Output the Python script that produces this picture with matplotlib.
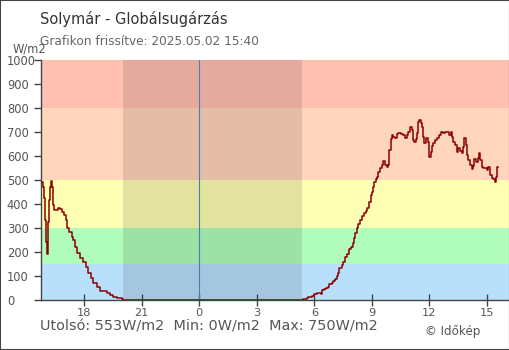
import matplotlib
matplotlib.use("Agg")
import matplotlib.pyplot as plt
from matplotlib.patches import Rectangle

# ── data ─────────────────────────────────────────────────────────────
# evening of 2025-05-01
EVE_TIMES = ["15:40", "15:50", "15:53", "15:56", "15:59", "16:02", "16:06", "16:09",
             "16:12", "16:15", "16:18", "16:21", "16:26", "16:34", "16:39", "16:44",
             "16:50", "16:56", "17:03", "17:07", "17:13", "17:21", "17:26", "17:31",
             "17:38", "17:47", "17:57", "18:05", "18:13", "18:20", "18:28", "18:39",
             "18:49", "19:10", "19:20", "19:31", "19:41", "19:57", "20:00"]
EVE_VALUES = [493, 472, 425, 333, 242, 191, 326, 417,
              472, 497, 472, 396, 375, 375, 385, 378,
              368, 354, 333, 299, 285, 264, 250, 222,
              194, 174, 160, 139, 111, 90, 69, 56,
              39, 31, 21, 11, 7, 3, 0]

# 2025-05-02
DAY_TIMES = ["05:24", "05:36", "05:41", "05:52", "05:59", "06:07", "06:21", "06:24",
             "06:30", "06:37", "06:42", "06:47", "06:54", "06:59", "07:05", "07:10",
             "07:13", "07:17", "07:26", "07:31", "07:37", "07:41", "07:49", "07:55",
             "08:00", "08:04", "08:08", "08:13", "08:18", "08:23", "08:28", "08:36",
             "08:42", "08:46", "08:52", "08:56", "09:00", "09:03", "09:08", "09:12",
             "09:17", "09:20", "09:26", "09:31", "09:36", "09:41", "09:47", "09:52",
             "09:55", "09:59", "10:02", "10:07", "10:13", "10:18", "10:23", "10:30",
             "10:39", "10:44", "10:49", "10:54", "11:00", "11:05", "11:08", "11:13",
             "11:18", "11:22", "11:25", "11:28", "11:33", "11:37", "11:41", "11:44",
             "11:50", "11:55", "11:58", "12:00", "12:04", "12:08", "12:12", "12:19",
             "12:25", "12:31", "12:37", "12:44", "12:49", "12:56", "13:03", "13:08",
             "13:12", "13:15", "13:20", "13:26", "13:31", "13:36", "13:41", "13:46",
             "13:49", "13:54", "13:57", "14:02", "14:07", "14:13", "14:16", "14:20",
             "14:25", "14:31", "14:35", "14:39", "14:44", "14:49", "14:57", "15:01",
             "15:05", "15:10", "15:15", "15:20", "15:26", "15:29", "15:31", "15:33",
             "15:35"]
DAY_VALUES = [3, 7, 14, 18, 24, 31, 25, 42,
              46, 51, 56, 65, 72, 79, 86, 100,
              114, 132, 146, 160, 180, 192, 211, 219,
              236, 257, 278, 299, 317, 333, 350, 361,
              372, 382, 410, 437, 451, 472, 490, 503,
              514, 535, 549, 562, 580, 562, 556, 562,
              625, 669, 688, 681, 674, 692, 694, 692,
              688, 676, 688, 701, 722, 708, 667, 660,
              669, 694, 743, 750, 736, 722, 681, 653,
              674, 660, 625, 597, 618, 642, 653, 667,
              674, 688, 699, 694, 701, 699, 688, 699,
              681, 660, 646, 618, 632, 622, 614, 639,
              674, 646, 604, 583, 562, 544, 558, 586,
              576, 590, 611, 583, 556, 549, 552, 542,
              556, 521, 507, 503, 493, 511, 535, 553,
              553]

# background bands (W/m2)
BAND_EDGES = [0, 150, 300, 500, 800, 1000]
BAND_COLORS = ["#b9e0fb", "#b0fdbb", "#ffffb4", "#ffd5bb", "#ffc0b1"]

NIGHT = ("20:00", "05:20")      # sunset on day 1, sunrise on day 2
X_TICKS = [-6, -3, 0, 3, 6, 9, 12, 15]
Y_TICKS = list(range(0, 1001, 100))

TITLE = "Solymár - Globálsugárzás"
SUBTITLE = "Grafikon frissítve: 2025.05.02 15:40"
FOOTER = "Utolsó: 553W/m2  Min: 0W/m2  Max: 750W/m2"


def to_hours(t, prev_day=False):
    h, m = t.split(":")
    val = int(h) + int(m) / 60
    return val - 24 if prev_day else val


# ── plot ─────────────────────────────────────────────────────────────
plt.rcParams["font.family"] = ["DejaVu Sans"]
W, H = 510, 350
fig = plt.figure(figsize=(W / 100, H / 100), dpi=100)
ax = fig.add_axes([40.7 / W, 50 / H, (509 - 40.7) / W, 240 / H])

for lo, hi, c in zip(BAND_EDGES[:-1], BAND_EDGES[1:], BAND_COLORS):
    ax.axhspan(lo, hi, color=c, lw=0, zorder=0)

ax.axvspan(to_hours(NIGHT[0], True), to_hours(NIGHT[1]), color="black",
           alpha=0.11, lw=0, zorder=1)
ax.axvline(0, color="#4a7fb0", lw=0.8, zorder=2)

xs = [to_hours(t, True) for t in EVE_TIMES] + [to_hours(t) for t in DAY_TIMES]
ys = EVE_VALUES + DAY_VALUES
ax.plot(xs, ys, drawstyle="steps-post", color="#8b0000", lw=1.1, zorder=3)

ax.set_xlim(-8.273, 16.155)
ax.set_ylim(0, 1000)
ax.set_xticks(X_TICKS)
ax.set_xticklabels([str(int(p % 24)) for p in X_TICKS])
ax.set_yticks(Y_TICKS)

for side in ("top", "right"):
    ax.spines[side].set_visible(False)
for side in ("left", "bottom"):
    ax.spines[side].set_color("#444444")
    ax.spines[side].set_linewidth(1.0)

ax.tick_params(axis="x", direction="inout", length=9, width=1, color="#444444",
               labelsize=8.2, labelcolor="#555555", pad=1.5)
ax.tick_params(axis="y", direction="out", length=5.4, width=1, color="#444444",
               labelsize=8.3, labelcolor="#555555", pad=19)
for lab in ax.get_yticklabels():
    lab.set_horizontalalignment("left")

fig.text(40 / W, 1 - 24 / H, TITLE, fontsize=10.5, color="#333333", va="baseline")
fig.text(40 / W, 1 - 45 / H, SUBTITLE, fontsize=8.7, color="#666666", va="baseline")
fig.text(12.5 / W, 1 - 52.5 / H, "W/m2", fontsize=8.3, color="#555555", va="baseline")
fig.text(40 / W, 1 - 331 / H, FOOTER, fontsize=10.4, color="#555555", va="baseline")
fig.text(425 / W, 1 - 335 / H, "© Időkép", fontsize=8.6, color="#555555", va="baseline")

fig.patches.append(Rectangle((0, 0), 1, 1, transform=fig.transFigure, fill=False,
                             edgecolor="#444444", lw=1.5, zorder=10))

fig.savefig("out.png", dpi=100)
